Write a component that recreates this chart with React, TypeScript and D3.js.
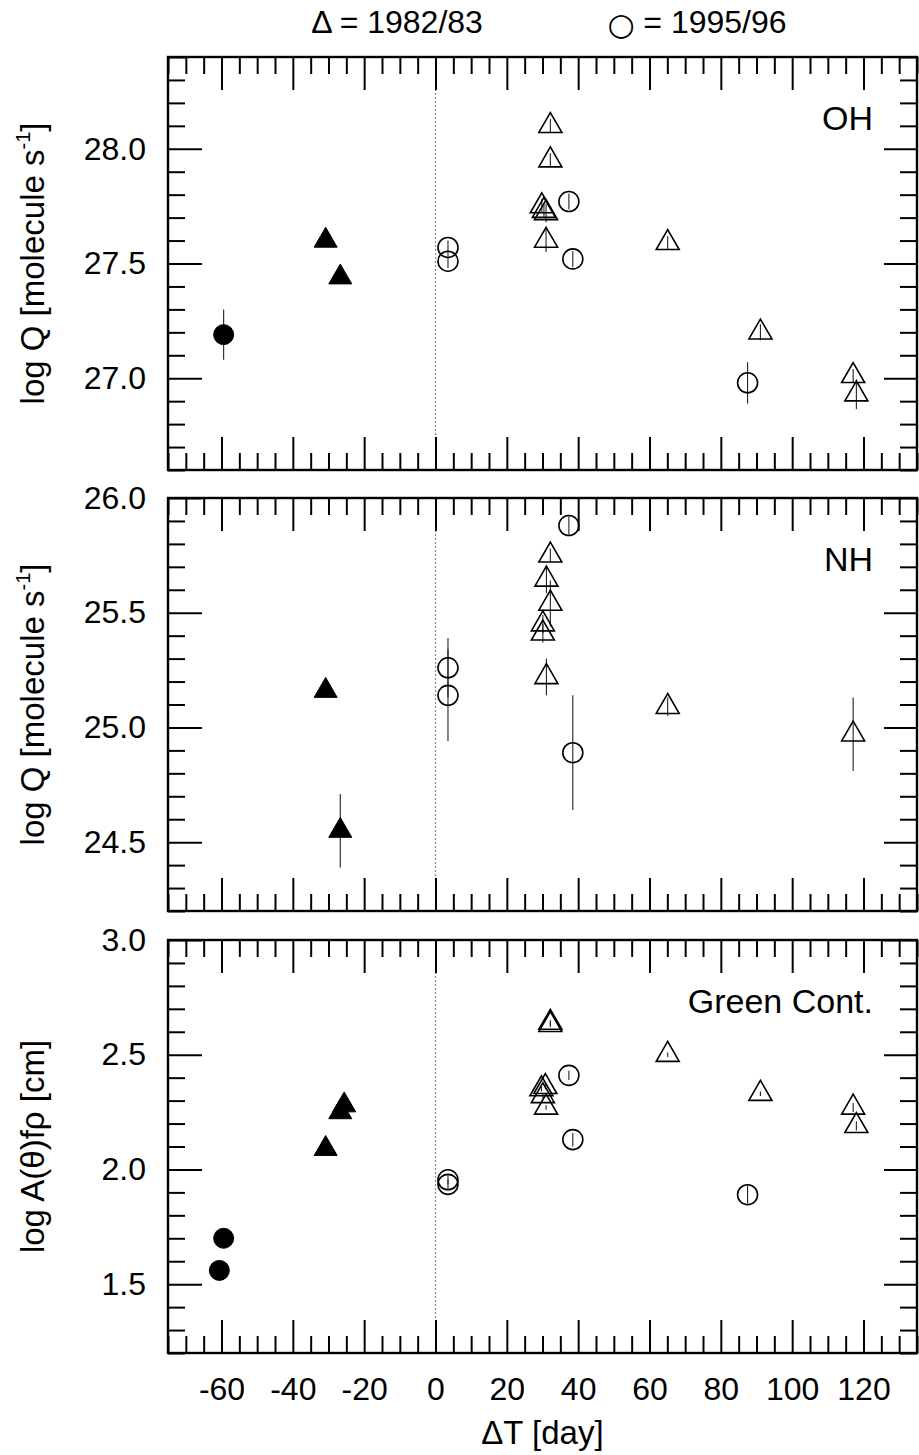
import * as d3 from "d3";
import { useEffect, useRef } from "react";

// [ΔT (day), log value, error]
type Pt = [number, number, number];

const ohTriangles: Pt[] = [
  [-30.8, 27.6, 0.02], [-26.7, 27.44, 0.02],
  [32.2, 28.1, 0.03], [32.2, 27.95, 0.03],
  [29.8, 27.75, 0.03], [30.4, 27.73, 0.03], [31.0, 27.72, 0.04],
  [31.0, 27.6, 0.05], [65.1, 27.59, 0.03], [91.1, 27.2, 0.035],
  [117.1, 27.01, 0.03], [118.0, 26.93, 0.065],
];
const ohCircles: Pt[] = [
  [-59.4, 27.19, 0.11], [3.5, 27.57, 0.03], [3.5, 27.51, 0.03],
  [37.4, 27.77, 0.035], [38.5, 27.52, 0.035], [87.5, 26.98, 0.09],
];

const nhTriangles: Pt[] = [
  [-30.8, 25.16, 0.03], [-26.7, 24.55, 0.16],
  [32.2, 25.75, 0.03], [31.1, 25.645, 0.06], [32.2, 25.54, 0.1],
  [30.1, 25.45, 0.04], [30.1, 25.41, 0.04], [31.1, 25.22, 0.08],
  [65.1, 25.09, 0.04], [117.1, 24.97, 0.16],
];
const nhCircles: Pt[] = [
  [3.5, 25.26, 0.13], [3.5, 25.14, 0.2], [37.4, 25.88, 0.04], [38.5, 24.89, 0.25],
];

const greenTriangles: Pt[] = [
  [-30.8, 2.09, 0.01], [-26.7, 2.25, 0.01], [-25.6, 2.28, 0.01],
  [32.2, 2.64, 0.01], [32.2, 2.63, 0.01],
  [29.7, 2.35, 0.01], [30.8, 2.36, 0.01], [30.1, 2.32, 0.01], [31.0, 2.27, 0.01],
  [65.1, 2.5, 0.01], [91.1, 2.33, 0.01], [117.1, 2.27, 0.02], [118.0, 2.19, 0.02],
];
const greenCircles: Pt[] = [
  [-59.4, 1.7, 0.01], [-60.6, 1.56, 0.01], [3.5, 1.955, 0.02], [3.5, 1.935, 0.02],
  [37.4, 2.41, 0.02], [38.5, 2.13, 0.03], [87.5, 1.89, 0.04],
];

const panelNames = ["OH", "NH", "Green Cont."];
const yDomains: [number, number][] = [[26.6, 28.4], [24.2, 26.0], [1.2, 3.0]];
const yMajorTicks = [[27.0, 27.5, 28.0], [24.5, 25.0, 25.5, 26.0], [1.5, 2.0, 2.5, 3.0]];
const xDomain: [number, number] = [-75, 135];
const xMajorTicks = [-60, -40, -20, 0, 20, 40, 60, 80, 100, 120];
const legendSymbols = ["Δ", "○"];
const legendLabels = [" = 1982/83", " = 1995/96"];

const W = 919;
const H = 1455;
const left = 168;
const right = 917;
const panelTops = [57, 498, 940];
const panelH = 413;
const font = "'Liberation Sans', Arial, Helvetica, sans-serif";

export default function App() {
  const ref = useRef<SVGSVGElement>(null);

  useEffect(() => {
    const svg = d3.select(ref.current);
    svg.selectAll("*").remove();

    const x = d3.scaleLinear().domain(xDomain).range([left, right]);
    const xMinor = d3.range(-15, 28).map((i) => i * 5).filter((v) => !xMajorTicks.includes(v));

    const panels = [
      { tri: ohTriangles, circ: ohCircles },
      { tri: nhTriangles, circ: nhCircles },
      { tri: greenTriangles, circ: greenCircles },
    ];

    const triPath = d3.symbol().type(d3.symbolTriangle).size(229)();
    const circPath = d3.symbol().type(d3.symbolCircle).size(314)();

    panels.forEach((p, i) => {
      const top = panelTops[i];
      const bottom = top + panelH;
      const [lo, hi] = yDomains[i];
      const y = d3.scaleLinear().domain([lo, hi]).range([bottom, top]);
      const majors = yMajorTicks[i];
      const yMinor = d3
        .range(Math.round(lo * 10), Math.round(hi * 10) + 1)
        .map((k) => k / 10)
        .filter((v) => !majors.some((m) => Math.abs(m - v) < 1e-6));

      const g = svg.append("g");

      // zero line
      g.append("line")
        .attr("x1", x(0)).attr("x2", x(0))
        .attr("y1", top).attr("y2", bottom)
        .attr("stroke", "#888")
        .attr("stroke-width", 1.2)
        .attr("stroke-dasharray", "2,2");

      const all = [
        ...p.tri.map((d) => ({ d, shape: "tri" })),
        ...p.circ.map((d) => ({ d, shape: "circ" })),
      ];

      // error bars
      g.selectAll(".err")
        .data(all)
        .join("line")
        .attr("class", "err")
        .attr("x1", (e) => x(e.d[0])).attr("x2", (e) => x(e.d[0]))
        .attr("y1", (e) => y(e.d[1] - e.d[2])).attr("y2", (e) => y(e.d[1] + e.d[2]))
        .attr("stroke", "#222")
        .attr("stroke-width", 1.1);

      // markers (pre-perihelion points are filled)
      g.selectAll(".mk")
        .data(all)
        .join("path")
        .attr("class", "mk")
        .attr("d", (e) => (e.shape === "tri" ? triPath : circPath))
        .attr("transform", (e) => `translate(${x(e.d[0])},${y(e.d[1])})`)
        .attr("fill", (e) => (e.d[0] < 0 ? "#000" : "none"))
        .attr("stroke", "#000")
        .attr("stroke-width", (e) => (e.d[0] < 0 ? 1 : 1.6));

      // axes: ticks inward, major and minor
      const styleAxis = (a: d3.Selection<SVGGElement, unknown, null, undefined>) => {
        a.select(".domain").remove();
        a.selectAll(".tick line").attr("stroke", "#000").attr("stroke-width", 2);
        a.selectAll("text")
          .attr("font-family", font)
          .attr("font-size", 32)
          .attr("fill", "#000");
      };
      const isBottomPanel = i === panels.length - 1;

      const addX = (pos: number, top_: boolean) => {
        const mk = top_ ? d3.axisTop(x) : d3.axisBottom(x);
        const gm = g.append("g").attr("transform", `translate(0,${pos})`);
        gm.call(
          mk.tickValues(xMajorTicks).tickSize(-33).tickPadding(24)
            .tickFormat((v) => (!top_ && isBottomPanel ? String(v) : ""))
        );
        styleAxis(gm);
        const mn = top_ ? d3.axisTop(x) : d3.axisBottom(x);
        const gn = g.append("g").attr("transform", `translate(0,${pos})`);
        gn.call(mn.tickValues(xMinor).tickSize(-17).tickFormat(() => ""));
        styleAxis(gn);
      };
      addX(top, true);
      addX(bottom, false);

      const addY = (pos: number, isLeft: boolean) => {
        const mk = isLeft ? d3.axisLeft(y) : d3.axisRight(y);
        const gm = g.append("g").attr("transform", `translate(${pos},0)`);
        gm.call(
          mk.tickValues(majors).tickSize(isLeft ? -34 : -33).tickPadding(22)
            .tickFormat((v) => (isLeft ? d3.format(".1f")(v as number) : ""))
        );
        styleAxis(gm);
        const mn = isLeft ? d3.axisLeft(y) : d3.axisRight(y);
        const gn = g.append("g").attr("transform", `translate(${pos},0)`);
        gn.call(mn.tickValues(yMinor).tickSize(-17).tickFormat(() => ""));
        styleAxis(gn);
      };
      addY(left, true);
      addY(right, false);

      // frame
      g.append("rect")
        .attr("x", left).attr("y", top)
        .attr("width", right - left).attr("height", panelH)
        .attr("fill", "none")
        .attr("stroke", "#000")
        .attr("stroke-width", 2.4);

      // panel label
      g.append("text")
        .attr("x", 873).attr("y", top + 73)
        .attr("text-anchor", "end")
        .attr("font-family", font)
        .attr("font-size", 34)
        .text(panelNames[i]);

      // y title
      const t = g.append("text")
        .attr("transform", `translate(44,${top + panelH / 2}) rotate(-90)`)
        .attr("text-anchor", "middle")
        .attr("font-family", font)
        .attr("font-size", 33);
      if (i < 2) {
        t.append("tspan").text("log Q [molecule s");
        t.append("tspan").attr("font-size", 20).attr("dy", -14).text("-1");
        t.append("tspan").attr("dy", 14).text("]");
      } else {
        t.text("log A(θ)fρ [cm]");
      }
    });

    // x title
    svg.append("text")
      .attr("x", (left + right) / 2).attr("y", 1444)
      .attr("text-anchor", "middle")
      .attr("font-family", font)
      .attr("font-size", 33)
      .text("ΔT [day]");

    // legend
    const lg = svg.selectAll(".legend")
      .data(legendLabels)
      .join("text")
      .attr("class", "legend")
      .attr("x", (d, k) => [397, 697][k])
      .attr("y", 33)
      .attr("text-anchor", "middle")
      .attr("font-family", font)
      .attr("font-size", 32);
    lg.append("tspan")
      .attr("font-family", (d, k) => (k === 0 ? font : "'DejaVu Sans', sans-serif"))
      .attr("font-size", (d, k) => (k === 0 ? 32 : 31))
      .attr("dy", (d, k) => (k === 0 ? 0 : 2))
      .text((d, k) => legendSymbols[k]);
    lg.append("tspan")
      .attr("dy", (d, k) => (k === 0 ? 0 : -2))
      .text((d) => d);
  }, []);

  return (
    <div>
      <style>{"body{margin:0}"}</style>
      <svg ref={ref} width={W} height={H} style={{ display: "block", background: "#fff" }} />
    </div>
  );
}
